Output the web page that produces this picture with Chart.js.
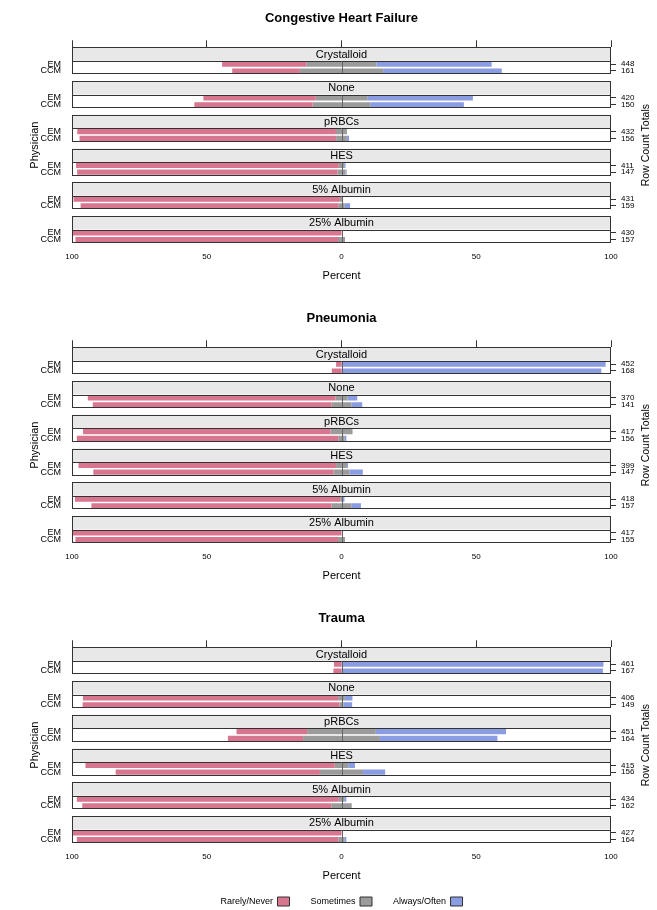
<!DOCTYPE html>
<html>
<head>
<meta charset="utf-8">
<script src="https://cdn.jsdelivr.net/npm/chart.js@4.4.0/dist/chart.umd.min.js"></script>
<style>
  body { margin: 0; overflow: hidden; background: #fff; }
  #page { position: relative; width: 657px; height: 910px; overflow: hidden; }
  canvas { position: absolute; left: 0; }
</style>
</head>
<body>
<div id="page">
  <canvas id="chf" width="657" height="300" style="top:0px"></canvas>
  <canvas id="pneu" width="657" height="300" style="top:300px"></canvas>
  <canvas id="trauma" width="657" height="316" style="top:600px"></canvas>
</div>
<script>
  // categories
  const groups = ['Crystalloid', 'None', 'pRBCs', 'HES', '5% Albumin', '25% Albumin'];
  const physicians = ['EM', 'CCM'];
  const levels = ['Rarely/Never', 'Sometimes', 'Always/Often'];

  // percents, per group: EM then CCM
  const chfRarely    = [31.3, 25.1, 41.7, 43.9, 96.0, 95.2, 97.5, 96.6, 98.8, 95.6, 100, 97.4];
  const chfSometimes = [26.0, 30.9, 19.1, 21.4, 4.1, 4.0, 2.0, 3.0, 1.2, 2.4, 0, 2.6];
  const chfAlways    = [42.7, 44.0, 39.2, 34.7, 0, 0.8, 0.5, 0.4, 0, 2.0, 0, 0];
  const chfCounts    = [448, 161, 420, 150, 432, 156, 411, 147, 431, 159, 430, 157];

  const pneuRarely    = [2.0, 3.6, 91.9, 88.6, 91.8, 97.0, 95.6, 89.1, 98.4, 89.1, 100, 97.4];
  const pneuSometimes = [0, 0, 4.5, 7.4, 8.2, 2.4, 4.0, 6.0, 1.0, 7.4, 0, 2.6];
  const pneuAlways    = [98.0, 96.4, 3.6, 4.0, 0, 0.6, 0.4, 4.9, 0.6, 3.5, 0, 0];
  const pneuCounts    = [452, 168, 370, 141, 417, 156, 399, 147, 418, 157, 417, 155];

  const traumaRarely    = [2.8, 3.0, 94.7, 95.3, 26.2, 27.9, 92.5, 75.8, 97.2, 92.4, 100, 97.0];
  const traumaSometimes = [0, 0, 2.5, 1.5, 25.5, 28.5, 5.0, 16.0, 2.0, 7.6, 0, 2.4];
  const traumaAlways    = [97.2, 97.0, 2.8, 3.2, 48.3, 43.6, 2.5, 8.2, 0.8, 0, 0, 0.6];
  const traumaCounts    = [461, 167, 406, 149, 451, 164, 415, 156, 434, 162, 427, 164];

  const colors = ['#d9768f', '#9b9b9b', '#8a9ce2'];
  const fontFamily = "'Liberation Sans', Arial, Helvetica, sans-serif";

  Chart.defaults.font.family = fontFamily;
  Chart.defaults.color = '#000';
  Chart.defaults.animation = false;

  // each group takes 5 rows: 2 for the strip, EM, CCM, 1 gap
  const rowCount = groups.length * 5 - 1;
  function rowIndex(gi, pi) { return gi * 5 + 2 + pi; }

  function rowLabels(fn) {
    const out = new Array(rowCount).fill('');
    groups.forEach((g, gi) => physicians.forEach((p, pi) => { out[rowIndex(gi, pi)] = fn(gi, pi); }));
    return out;
  }

  // diverging bars: neutral split across zero
  function segments(rare, some, always) {
    const sets = [0, 1, 2].map(() => new Array(rowCount).fill(null));
    groups.forEach((g, gi) => physicians.forEach((p, pi) => {
      const k = gi * 2 + pi, r = rowIndex(gi, pi);
      const half = some[k] / 2;
      if (rare[k] > 0) sets[0][r] = [-(rare[k] + half), -half];
      if (some[k] > 0) sets[1][r] = [-half, half];
      if (always[k] > 0) sets[2][r] = [half, half + always[k]];
    }));
    return sets;
  }

  const stripPlugin = {
    id: 'strips',
    beforeDatasetsDraw(chart) {
      const {ctx, chartArea: a, scales: {y}} = chart;
      const slot = y.getPixelForValue(1) - y.getPixelForValue(0);
      ctx.save();
      groups.forEach((g, gi) => {
        const top = y.getPixelForValue(gi * 5) - slot / 2;
        const mid = y.getPixelForValue(gi * 5 + 1) + slot / 2;
        ctx.fillStyle = '#e8e8e8';
        ctx.fillRect(a.left, top, a.right - a.left, mid - top);
        ctx.fillStyle = '#000';
        ctx.font = '11px ' + fontFamily;
        ctx.textAlign = 'center';
        ctx.textBaseline = 'middle';
        ctx.fillText(g, (a.left + a.right) / 2, (top + mid) / 2 + 0.5);
      });
      ctx.restore();
    },
    afterDatasetsDraw(chart) {
      const {ctx, chartArea: a, scales: {x, y}} = chart;
      const slot = y.getPixelForValue(1) - y.getPixelForValue(0);
      const x0 = Math.round(x.getPixelForValue(0)) + 0.5;
      const L = Math.round(a.left) + 0.5, R = Math.round(a.right) - 0.5;
      ctx.save();
      ctx.lineWidth = 1;
      groups.forEach((g, gi) => {
        const top = Math.round(y.getPixelForValue(gi * 5) - slot / 2) + 0.5;
        const mid = Math.round(y.getPixelForValue(gi * 5 + 1) + slot / 2) + 0.5;
        const bot = Math.round(y.getPixelForValue(gi * 5 + 3) + slot / 2) - 0.5;
        ctx.strokeStyle = '#666';
        ctx.beginPath();
        ctx.moveTo(x0, mid);
        ctx.lineTo(x0, bot);
        ctx.stroke();
        ctx.strokeStyle = '#333';
        ctx.strokeRect(L, top, R - L, bot - top);
        ctx.beginPath();
        ctx.moveTo(L, mid);
        ctx.lineTo(R, mid);
        ctx.stroke();
      });
      ctx.restore();
    },
    afterDraw(chart) {
      const {ctx, chartArea: a} = chart;
      ctx.save();
      ctx.translate(646, (a.top + a.bottom) / 2);
      ctx.rotate(-Math.PI / 2);
      ctx.font = '10.5px ' + fontFamily;
      ctx.fillStyle = '#000';
      ctx.textAlign = 'center';
      ctx.textBaseline = 'middle';
      ctx.fillText('Row Count Totals', 0, 0);
      ctx.restore();
    }
  };

  function makePanel(id, title, rare, some, always, counts, showLegend) {
    const canvas = document.getElementById(id);
    const H = canvas.height;
    const legendH = showLegend ? 40 : 0;
    const bottomH = H - legendH - 47.3 - 195.7;
    const percentPad = (H - legendH) - 276.4 - 6.6;
    const sets = segments(rare, some, always);

    new Chart(canvas, {
      type: 'bar',
      data: {
        labels: rowLabels((gi, pi) => physicians[pi]),
        datasets: levels.map((lv, i) => ({
          label: lv,
          data: sets[i],
          backgroundColor: colors[i],
          borderWidth: 0,
          grouped: false,
          barPercentage: 0.75,
          categoryPercentage: 1
        }))
      },
      options: {
        indexAxis: 'y',
        responsive: false,
        animation: false,
        layout: { padding: 0 },
        scales: {
          x: {
            type: 'linear', position: 'bottom', min: -100, max: 100,
            ticks: { stepSize: 50, padding: 1, font: { size: 8 }, callback: v => Math.abs(v) },
            grid: { display: false },
            border: { display: false },
            title: { display: true, text: 'Percent', font: { size: 11 }, padding: { top: 0, bottom: percentPad } },
            afterFit: s => { s.height = bottomH; }
          },
          x2: {
            type: 'linear', position: 'top', min: -100, max: 100,
            ticks: { stepSize: 50, display: false },
            grid: { drawOnChartArea: false, tickLength: 7, color: '#333' },
            border: { display: false },
            afterFit: s => { s.height = 20.7; }
          },
          y: {
            type: 'category', position: 'left', offset: true,
            ticks: { autoSkip: false, padding: 3, font: { size: 9 } },
            grid: { display: false },
            border: { display: false },
            title: { display: true, text: 'Physician', font: { size: 11 }, padding: { top: 28.4, bottom: 0 } },
            afterFit: s => { s.width = 72; }
          },
          y2: {
            type: 'category', position: 'right', offset: true,
            labels: rowLabels((gi, pi) => String(counts[gi * 2 + pi])),
            ticks: { autoSkip: false, padding: 5, font: { size: 8 } },
            grid: {
              drawOnChartArea: false, offset: false, tickLength: 5,
              color: c => (c.tick && c.tick.label) ? '#333' : 'rgba(0,0,0,0)'
            },
            border: { display: false },
            afterFit: s => { s.width = 46; }
          }
        },
        plugins: {
          title: {
            display: true, text: title, color: '#000',
            fullSize: false,
            font: { size: 13, weight: 'bold' },
            padding: { top: 11, bottom: 0 }
          },
          legend: {
            display: showLegend,
            position: 'bottom',
            fullSize: false,
            rtl: true,
            reverse: true,
            labels: {
              boxWidth: 12, boxHeight: 9, padding: 21, font: { size: 9 },
              generateLabels: chart => Chart.defaults.plugins.legend.labels.generateLabels(chart)
                .map(l => Object.assign(l, { lineWidth: 1, strokeStyle: '#333' }))
            }
          },
          tooltip: { enabled: false }
        }
      },
      plugins: [stripPlugin]
    });
  }

  makePanel('chf', 'Congestive Heart Failure', chfRarely, chfSometimes, chfAlways, chfCounts, false);
  makePanel('pneu', 'Pneumonia', pneuRarely, pneuSometimes, pneuAlways, pneuCounts, false);
  makePanel('trauma', 'Trauma', traumaRarely, traumaSometimes, traumaAlways, traumaCounts, true);
</script>
</body>
</html>
